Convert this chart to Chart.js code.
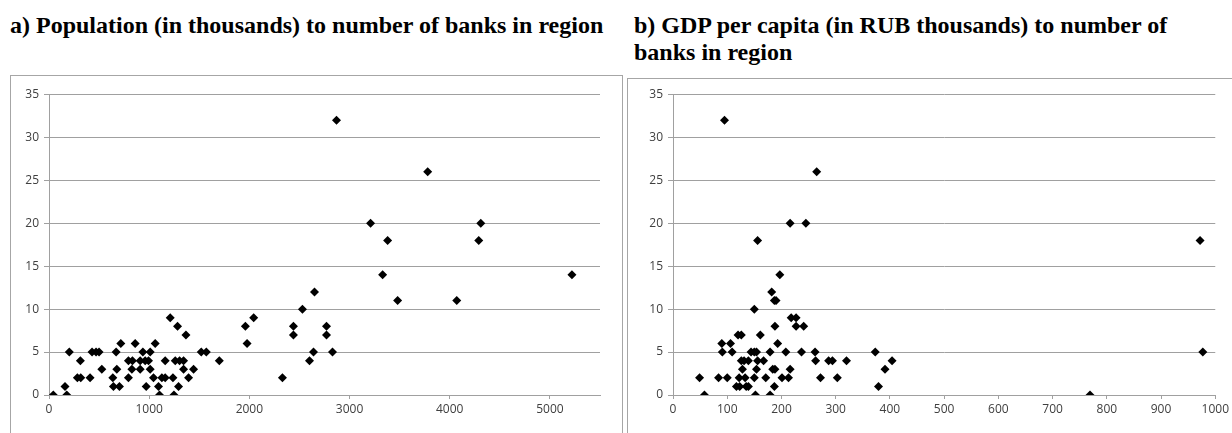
<!DOCTYPE html>
<html>
<head>
<meta charset="utf-8">
<script src="https://cdn.jsdelivr.net/npm/chart.js@4"></script>
<style>
    body { margin: 0; background: #fff; width: 1232px; height: 433px; overflow: hidden; position: relative; }
    .title { position: absolute; font-family: "Liberation Serif", "Times New Roman", serif; font-weight: bold; font-size: 24px; line-height: 27px; color: #000; white-space: nowrap; }
    .box { position: absolute; border: 1px solid #a6a6a6; background: #fff; }
    canvas { position: absolute; }
</style>
</head>
<body>
<div class="title" style="left:10px; top:12px;">a) Population (in thousands) to number of banks in region</div>
<div class="title" style="left:634px; top:12px;">b) GDP per capita (in RUB thousands) to number of<br>banks in region</div>

<div class="box" style="left:10px; top:75px; width:611px; height:380px;"></div>
<div class="box" style="left:627px; top:78px; width:620px; height:380px;"></div>

<canvas id="chartA" width="610" height="357" style="left:11px; top:76px;"></canvas>
<canvas id="chartB" width="603" height="354" style="left:629px; top:79px;"></canvas>

<script>
// a) population (thousands) vs number of banks
const popThousands = [43, 177, 160, 203, 313, 283, 317, 410, 430, 470, 500, 527, 637, 643, 670, 677, 703, 717, 793, 793,
    833, 827, 860, 910, 910, 937, 960, 970, 993, 1010, 1010, 1043, 1060, 1093, 1103, 1127, 1160, 1160, 1210, 1237,
    1247, 1260, 1283, 1293, 1303, 1343, 1343, 1367, 1393, 1443, 1520, 1570, 1700, 1960, 1977, 2043, 2330, 2440, 2440, 2530,
    2600, 2640, 2650, 2770, 2770, 2830, 2870, 3210, 3330, 3380, 3480, 3780, 4070, 4290, 4310, 5220];
const banksA = [0, 0, 1, 5, 4, 2, 2, 2, 5, 5, 5, 3, 2, 1, 5, 3, 1, 6, 2, 4,
    4, 3, 6, 4, 3, 5, 4, 1, 4, 5, 3, 2, 6, 1, 0, 2, 4, 2, 9, 2,
    0, 4, 8, 1, 4, 4, 3, 7, 2, 3, 5, 5, 4, 8, 6, 9, 2, 8, 7, 10,
    4, 5, 12, 8, 7, 5, 32, 20, 14, 18, 11, 26, 11, 18, 20, 14];

// b) GDP per capita (RUB thousands) vs number of banks
const gdpPerCapita = [95, 265, 216, 245, 156, 197, 182, 187, 190, 150, 218, 227, 188, 227, 241, 120, 126, 161, 90, 106,
    193, 91, 109, 144, 150, 154, 179, 208, 237, 262, 373, 977, 126, 131, 139, 156, 167, 263, 287, 294,
    320, 404, 128, 154, 184, 188, 216, 391, 49, 84, 100, 122, 133, 150, 171, 201, 213, 272, 303, 117,
    123, 135, 139, 187, 379, 58, 152, 179, 769, 972];
const banksB = [32, 26, 20, 20, 18, 14, 12, 11, 11, 10, 9, 9, 8, 8, 8, 7, 7, 7, 6, 6,
    6, 5, 5, 5, 5, 5, 5, 5, 5, 5, 5, 5, 4, 4, 4, 4, 4, 4, 4, 4,
    4, 4, 3, 3, 3, 3, 3, 3, 2, 2, 2, 2, 2, 2, 2, 2, 2, 2, 2, 1,
    1, 1, 1, 1, 1, 0, 0, 0, 0, 18];

// axis ticks
const yTicks = [0, 5, 10, 15, 20, 25, 30, 35];
const xTicksA = [0, 1000, 2000, 3000, 4000, 5000];
const xMaxA = 5500;
const xTicksB = [0, 100, 200, 300, 400, 500, 600, 700, 800, 900, 1000];
const xMaxB = 1000;

const gridGrey = '#a0a0a0';
const tickFont = { family: 'Open Sans', size: 12 };

function makeScatter(canvasId, xs, ys, xTicks, xMax, yAxisWidth, pad) {
    const points = xs.map((x, i) => ({ x: x, y: ys[i] }));
    return new Chart(document.getElementById(canvasId), {
        type: 'scatter',
        data: {
            datasets: [{
                data: points,
                pointStyle: 'rectRot',
                pointRadius: 4.5,
                pointBorderWidth: 0,
                backgroundColor: '#000',
                borderColor: '#000'
            }]
        },
        options: {
            responsive: false,
            animation: false,
            layout: { padding: pad },
            plugins: { legend: { display: false }, tooltip: { enabled: false } },
            scales: {
                x: {
                    type: 'linear',
                    min: 0,
                    max: xMax,
                    afterBuildTicks: (scale) => { scale.ticks = xTicks.map(v => ({ value: v })); },
                    afterFit: (scale) => { scale.height = 38; },
                    ticks: {
                        autoSkip: false,
                        maxRotation: 0,
                        color: '#404040',
                        font: tickFont,
                        padding: 3,
                        callback: (v) => String(v)
                    },
                    grid: { drawOnChartArea: false, drawTicks: true, tickLength: 4, color: gridGrey },
                    border: { color: gridGrey }
                },
                y: {
                    min: 0,
                    max: yTicks[yTicks.length - 1],
                    afterBuildTicks: (scale) => { scale.ticks = yTicks.map(v => ({ value: v })); },
                    afterFit: (scale) => { scale.width = yAxisWidth; },
                    ticks: { color: '#404040', font: tickFont, padding: 5 },
                    grid: { color: gridGrey, tickLength: 5 },
                    border: { color: gridGrey }
                }
            }
        }
    });
}

makeScatter('chartA', popThousands, banksA, xTicksA, xMaxA, 38, { left: 0, right: 21, top: 18.5, bottom: 0 });
makeScatter('chartB', gdpPerCapita, banksB, xTicksB, xMaxB, 44, { left: 0, right: 14, top: 15.5, bottom: 0 });
</script>
</body>
</html>
